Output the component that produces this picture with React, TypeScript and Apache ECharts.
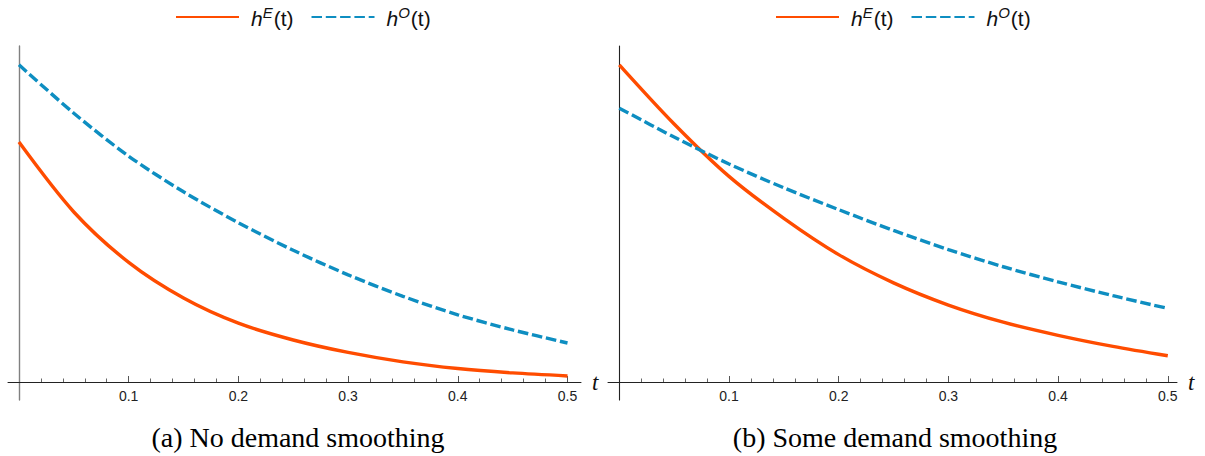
import React, { useEffect, useRef } from "react";
import * as echarts from "echarts";

const tValues = [0, 0.05, 0.1, 0.15, 0.2, 0.25, 0.3, 0.35, 0.4, 0.45, 0.5];
const leftHE = [71.4, 50.6, 35.6, 25.0, 17.5, 12.5, 8.8, 6.0, 4.0, 2.7, 1.8];
const leftHO = [94.4, 80.0, 67.2, 56.6, 47.4, 39.2, 31.9, 25.5, 20.0, 15.5, 11.6];
const rightHE = [94.4, 76.8, 61.2, 48.7, 37.9, 29.5, 22.9, 17.8, 13.9, 10.6, 7.8];
const rightHO = [81.5, 72.9, 64.9, 57.8, 51.3, 45.1, 39.4, 34.3, 29.8, 25.7, 21.9];
const majorTicks = [0.1, 0.2, 0.3, 0.4, 0.5];
const minorTicks = [
  0.02, 0.04, 0.06, 0.08, 0.12, 0.14, 0.16, 0.18, 0.22, 0.24, 0.26, 0.28,
  0.32, 0.34, 0.36, 0.38, 0.42, 0.44, 0.46, 0.48,
];
const seriesNames = ["hE", "hO"];
const superscripts: Record<string, string> = { hE: "E", hO: "O" };
const captions = ["(a) No demand smoothing", "(b) Some demand smoothing"];
const axisName = "t";

const ORANGE = "#ff4c00";
const BLUE = "#0e8ec1";

function pairs(vals: number[]) {
  return tValues.map((t, i) => [t, vals[i]]);
}

export default function App() {
  const ref = useRef<HTMLDivElement>(null);
  useEffect(() => {
    document.body.style.margin = "0";
    const chart = echarts.init(ref.current!, null, { renderer: "svg" });

    const panels = [
      { left: 8, width: 573, xr: [-0.01, 0.5123], yColor: "#808080", yWidth: 1.4 },
      { left: 608, width: 569, xr: [-0.0103, 0.5084], yColor: "#222", yWidth: 1.1 },
    ];

    const grids: any[] = [];
    const xAxes: any[] = [];
    const yAxes: any[] = [];
    panels.forEach((p) => {
      grids.push({ left: p.left, top: 46, width: p.width, height: 336 });
    });
    panels.forEach((p) => {
      grids.push({ left: p.left, top: 46, width: p.width, height: 354 });
    });

    panels.forEach((p, gi) => {
      xAxes.push({
        type: "value",
        gridIndex: gi,
        position: "bottom",
        min: p.xr[0],
        max: p.xr[1],
        axisLine: { show: true, onZero: false, lineStyle: { color: "#222", width: 1 } },
        axisTick: {
          show: true,
          inside: true,
          length: 6,
          customValues: majorTicks,
          lineStyle: { color: "#555", width: 1 },
        },
        axisLabel: {
          show: true,
          customValues: majorTicks,
          formatter: (v: number) => v.toFixed(1),
          color: "#222",
          fontSize: 14,
          fontFamily: "Liberation Sans",
          margin: 7,
        },
        splitLine: { show: false },
        name: axisName,
        nameLocation: "end",
        nameGap: 11,
        nameTextStyle: {
          fontStyle: "italic",
          fontSize: 23,
          fontFamily: "Liberation Serif",
          color: "#111",
          verticalAlign: "middle",
        },
      });
      xAxes.push({
        type: "value",
        gridIndex: gi,
        position: "bottom",
        min: p.xr[0],
        max: p.xr[1],
        axisLine: { show: false, onZero: false },
        axisTick: {
          show: true,
          inside: true,
          length: 3.5,
          customValues: minorTicks,
          lineStyle: { color: "#666", width: 1 },
        },
        axisLabel: { show: false },
        splitLine: { show: false },
      });
      yAxes.push({
        type: "value",
        gridIndex: gi,
        min: 0,
        max: 100,
        show: false,
        axisLine: { show: false, onZero: false },
        splitLine: { show: false },
      });
    });
    panels.forEach((p, i) => {
      const gi = i + 2;
      xAxes.push({
        type: "value",
        gridIndex: gi,
        min: p.xr[0],
        max: p.xr[1],
        show: false,
        axisLine: { show: false, onZero: false },
        splitLine: { show: false },
      });
      yAxes.push({
        type: "value",
        gridIndex: gi,
        min: -5.4,
        max: 100,
        axisLine: { show: true, onZero: true, lineStyle: { color: p.yColor, width: p.yWidth } },
        axisTick: { show: false },
        axisLabel: { show: false },
        splitLine: { show: false },
      });
    });

    const panelData = [
      [leftHE, leftHO],
      [rightHE, rightHO],
    ];
    const series: any[] = [];
    panelData.forEach((pd, gi) => {
      pd.forEach((vals, si) => {
        series.push({
          type: "line",
          name: seriesNames[si],
          xAxisIndex: gi * 2,
          yAxisIndex: gi,
          data: pairs(vals),
          smooth: 0.3,
          symbol: "circle",
          showSymbol: false,
          lineStyle: {
            color: si === 0 ? ORANGE : BLUE,
            width: 3.4,
            type: si === 0 ? "solid" : [10.5, 3.8],
          },
          itemStyle: { color: si === 0 ? ORANGE : BLUE },
          z: 2 + si,
        });
      });
    });

    const base = { fontFamily: "Liberation Sans", color: "#111", verticalAlign: "bottom", lineHeight: 24 };
    const legendRich = {
      i: { ...base, fontStyle: "italic", fontSize: 21 },
      s: { ...base, fontStyle: "italic", fontSize: 15, padding: [0, 1, 9, 0] },
      n: { ...base, fontSize: 21 },
    };
    const legends = [175, 775].map((left) => ({
      left,
      top: 5,
      padding: 0,
      itemWidth: 63,
      itemHeight: 14,
      itemGap: 17,
      data: seriesNames,
      itemStyle: { opacity: 0 },
      formatter: (name: string) => `{i|h}{s|${superscripts[name]}}{n|(t)}`,
      textStyle: { padding: [0, 0, 0, 7], rich: legendRich },
    }));

    chart.setOption({
      animation: false,
      backgroundColor: "#fff",
      grid: grids,
      xAxis: xAxes,
      yAxis: yAxes,
      legend: legends,
      series,
      graphic: captions.map((c, i) => ({
        type: "text",
        x: i === 0 ? 298 : 895,
        y: 437,
        style: {
          text: c,
          fontSize: 28,
          fontFamily: "Liberation Serif",
          fill: "#000",
          textAlign: "center",
          textVerticalAlign: "middle",
        },
      })),
    });
    return () => chart.dispose();
  }, []);
  return <div ref={ref} style={{ width: 1205, height: 456 }} />;
}
